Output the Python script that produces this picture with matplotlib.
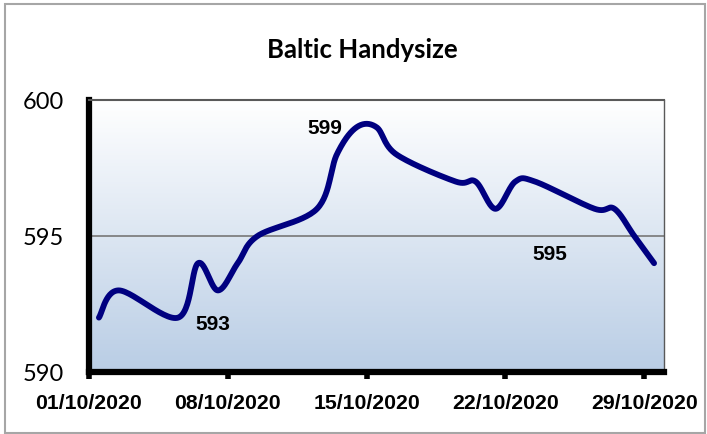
import matplotlib.pyplot as plt
import matplotlib.patches as mpatches
import numpy as np

# Baltic Handysize index, October 2020 (business days only)
dates = ["2020-10-01", "2020-10-02", "2020-10-05", "2020-10-06", "2020-10-07",
         "2020-10-08", "2020-10-09", "2020-10-12", "2020-10-13", "2020-10-14",
         "2020-10-15", "2020-10-16", "2020-10-19", "2020-10-20", "2020-10-21",
         "2020-10-22", "2020-10-23", "2020-10-26", "2020-10-27", "2020-10-28",
         "2020-10-29"]
values = [592, 593, 592, 594, 593, 594, 595, 596, 598, 599,
          599, 598, 597, 597, 596, 597, 597, 596, 596, 595, 594]

tick_dates = ["2020-10-01", "2020-10-08", "2020-10-15", "2020-10-22", "2020-10-29"]
tick_labels = ["01/10/2020", "08/10/2020", "15/10/2020", "22/10/2020", "29/10/2020"]

# which points carry a data label, and where the label was dragged to (pixels)
label_dates = ["2020-10-14", "2020-10-07", "2020-10-28"]
label_offsets = [(-32, 0), (-5, -33), (-84, -18)]

start = np.datetime64("2020-10-01")


def day_num(d):
    return (np.datetime64(d) - start).astype(int)


# Excel date axis: each point sits in the middle of its day slot
x = np.array([day_num(d) for d in dates]) + 0.5
y = np.array(values, dtype=float)


# Excel style smoothed line (Catmull-Rom through the points)
def smooth(px, py, n=30):
    P = np.column_stack([px, py])
    P = np.vstack([P[0], P, P[-1]])
    out = []
    for i in range(1, len(P) - 2):
        p0, p1, p2, p3 = P[i - 1], P[i], P[i + 1], P[i + 2]
        c1 = p1 + (p2 - p0) / 6
        c2 = p2 - (p3 - p1) / 6
        t = np.linspace(0, 1, n)[:, None]
        seg = ((1 - t) ** 3) * p1 + 3 * ((1 - t) ** 2) * t * c1 + 3 * (1 - t) * t ** 2 * c2 + t ** 3 * p2
        out.append(seg if i == 1 else seg[1:])
    out = np.vstack(out)
    return out[:, 0], out[:, 1]


sx, sy = smooth(x, y)

fig = plt.figure(figsize=(7.07, 4.35), dpi=100)
ax = fig.add_axes([89 / 707, 1 - 373 / 435, (664 - 89) / 707, (373 - 101) / 435])

# outer chart border
fig.patches.append(mpatches.Rectangle((5 / 707, 0.002), 700 / 707, 1 - 5 / 435 - 0.002,
                                      transform=fig.transFigure, fill=False,
                                      edgecolor="#a6a6a6", lw=1.5))

# gradient plot area: white at top to light blue at bottom
top = np.array([1.0, 1.0, 1.0])
bot = np.array([0xb9, 0xcd, 0xe5]) / 255
g = np.linspace(0, 1, 256)[:, None]
grad = top * (1 - g) + bot * g
ax.imshow(grad[:, None, :], extent=[0, 29, 590, 600], aspect="auto", origin="upper", zorder=0)

ax.axhline(595, color="#808080", lw=1.3, zorder=1)
ax.plot(sx, sy, color="#000080", lw=4.2, solid_capstyle="round", zorder=3)

for d, (dx, dy) in zip(label_dates, label_offsets):
    i = dates.index(d)
    ax.annotate(str(values[i]), (x[i], y[i]), xytext=(dx, dy), textcoords="offset pixels",
                ha="center", va="center", fontsize=15, fontweight="bold",
                family="Liberation Sans", zorder=4)

ax.set_xlim(0, 29)
ax.set_ylim(590, 600)
ax.set_xticks([day_num(d) for d in tick_dates])
ax.set_xticklabels(tick_labels, fontsize=15.3, fontweight="bold", family="Liberation Sans")
ax.set_yticks([590, 595, 600])
ax.set_yticklabels(["590", "595", "600"], fontsize=17, family="Lato")
ax.tick_params(axis="x", direction="out", length=5, width=4, pad=10)
ax.tick_params(axis="y", length=0, pad=18)

ax.spines["left"].set_linewidth(4.5)
ax.spines["bottom"].set_linewidth(4.5)
ax.spines["left"].set_color("black")
ax.spines["bottom"].set_color("black")
ax.spines["top"].set_color("#595959")
ax.spines["right"].set_color("#595959")
ax.spines["top"].set_linewidth(1.5)
ax.spines["right"].set_linewidth(1.0)

fig.text(362 / 707, 1 - 50 / 435, "Baltic Handysize", ha="center", va="center",
         fontsize=18.5, fontweight="bold", family="Lato")

fig.savefig("out.png", dpi=100)
